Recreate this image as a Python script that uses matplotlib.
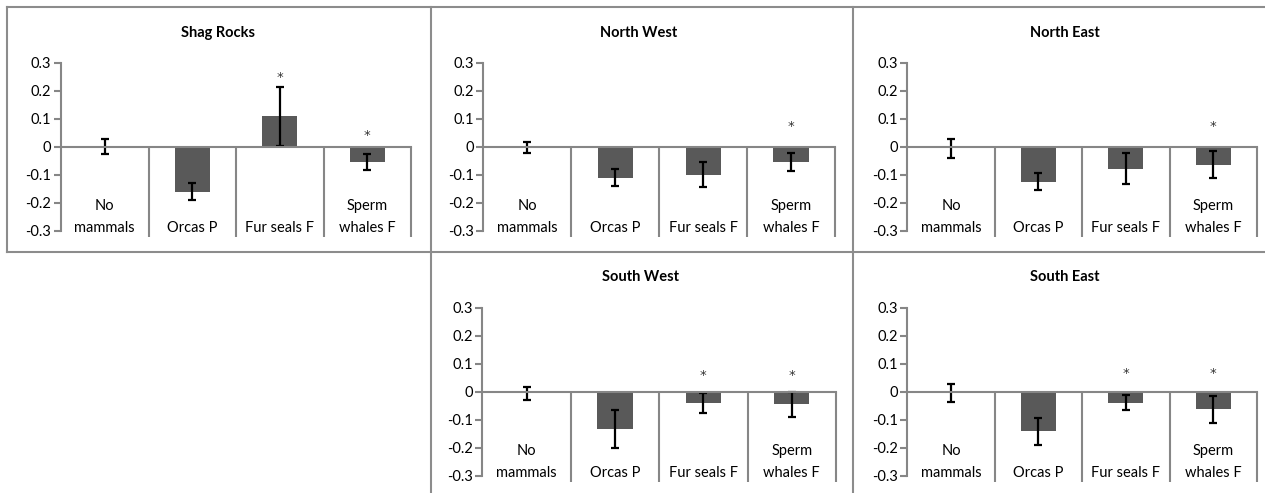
import matplotlib.pyplot as plt
from matplotlib.lines import Line2D

plt.rcParams['font.family'] = ['Lato', 'DejaVu Sans']

W, H = 1265, 493

categories = ["No\nmammals", "Orcas P", "Fur seals F", "Sperm\nwhales F"]
y_ticks = [-0.3, -0.2, -0.1, 0.0, 0.1, 0.2, 0.3]
y_tick_labels = ["-0.3", "-0.2", "-0.1", "0", "0.1", "0.2", "0.3"]

region_names = ["Shag Rocks", "North West", "North East", "South West", "South East"]

shag_means = [0.0, -0.16, 0.108, -0.055]
shag_errs = [0.026, 0.030, 0.107, 0.028]
shag_stars = [None, None, 0.264, 0.054]

nw_means = [-0.003, -0.11, -0.10, -0.055]
nw_errs = [0.021, 0.032, 0.044, 0.032]
nw_stars = [None, None, None, 0.089]

ne_means = [-0.006, -0.125, -0.078, -0.064]
ne_errs = [0.033, 0.031, 0.055, 0.047]
ne_stars = [None, None, None, 0.086]

sw_means = [-0.005, -0.133, -0.04, -0.045]
sw_errs = [0.023, 0.068, 0.035, 0.045]
sw_stars = [None, None, 0.074, 0.074]

se_means = [-0.005, -0.142, -0.04, -0.063]
se_errs = [0.032, 0.047, 0.027, 0.047]
se_stars = [None, None, 0.08, 0.08]

all_means = [shag_means, nw_means, ne_means, sw_means, se_means]
all_errs = [shag_errs, nw_errs, ne_errs, sw_errs, se_errs]
all_stars = [shag_stars, nw_stars, ne_stars, sw_stars, se_stars]

# panel geometry in pixels: plot left, right, y of 0.3, y of -0.3, title x, title y
panels = [
    (61, 411, 62.7, 230.7, 218, 33),
    (483.3, 835, 62.7, 230.7, 639, 33),
    (907.3, 1257, 62.7, 230.7, 1065, 33),
    (482.3, 836, 307.7, 475.7, 640, 277.3),
    (907.3, 1257, 307.7, 475.7, 1065, 277.3),
]

BAR = '#595959'
AXIS = '#868686'
BORDER = '#8c8c8c'
TEXT = '#000000'
FS = 10.5

fig = plt.figure(figsize=(W / 100, H / 100), dpi=100)

for name, means, errs, stars, (l, r, t, b, tx, ty) in zip(
        region_names, all_means, all_errs, all_stars, panels):
    ax = fig.add_axes([l / W, 1 - b / H, (r - l) / W, (b - t) / H])
    xs = [i + 0.5 for i in range(len(categories))]
    ax.bar(xs, means, width=0.4, color=BAR, yerr=errs, capsize=3.2,
           error_kw=dict(ecolor='black', elinewidth=1.6, capthick=1.6), zorder=2)
    ax.set_xlim(0, len(categories))
    ax.set_ylim(-0.3, 0.3)

    for s in ['top', 'right']:
        ax.spines[s].set_visible(False)
    ax.spines['bottom'].set_position(('data', 0))
    ax.spines['bottom'].set_color(AXIS)
    ax.spines['bottom'].set_linewidth(1.5)
    ax.spines['bottom'].set_zorder(3)
    ax.spines['left'].set_color(AXIS)
    ax.spines['left'].set_linewidth(1.5)
    ax.set_xticks([])
    ax.set_yticks(y_ticks)
    ax.set_yticklabels(y_tick_labels)
    ax.tick_params(axis='y', length=5, width=1.5, color=AXIS, pad=2,
                   labelsize=FS, labelcolor=TEXT)

    # category separators running down through the label area
    ax.vlines(range(1, len(categories) + 1), -0.321, 0, color=AXIS,
              linewidth=1.5, clip_on=False, zorder=3)

    for x, lab in zip(xs, categories):
        lines = lab.split("\n")
        for k, line in enumerate(reversed(lines)):
            ax.text(x, -0.306 + 0.08 * k, line, ha='center', va='baseline',
                    fontsize=FS, color=TEXT)

    for x, sy in zip(xs, stars):
        if sy is not None:
            ax.text(x, sy - 0.028, "*", ha='center', va='baseline',
                    fontsize=9.5, color='#333333', family='DejaVu Sans')

    fig.text(tx / W, 1 - ty / H, name, ha='center', va='center',
             fontsize=FS, fontweight='bold', color=TEXT)

# chart frames
def frame_line(xa, ya, xb, yb):
    fig.add_artist(Line2D([xa / W, xb / W], [1 - ya / H, 1 - yb / H],
                          color=BORDER, linewidth=1.5))

frame_line(7, 7, W, 7)
frame_line(7, 7, 7, 252)
frame_line(7, 252, W, 252)
frame_line(431, 7, 431, H)
frame_line(853, 7, 853, H)

fig.savefig("out.png", dpi=100)
